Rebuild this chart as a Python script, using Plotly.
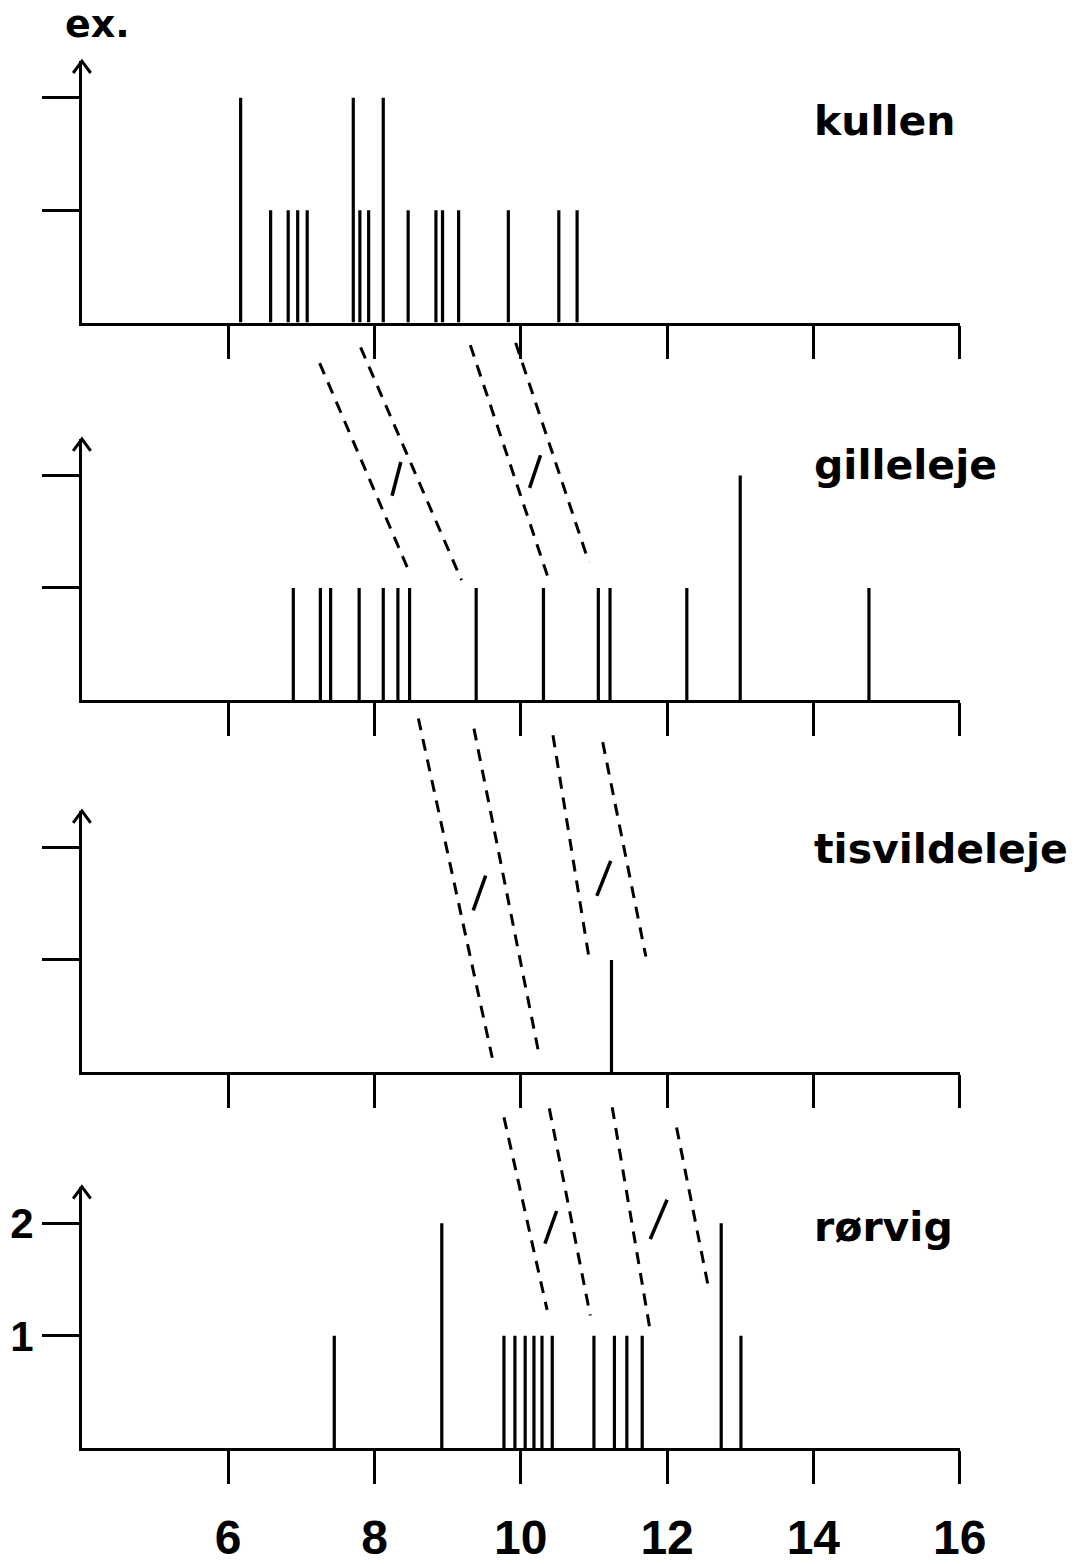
import plotly.graph_objects as go

W, H = 1091, 1564

# ---------------- data ----------------
x_tick_vals = [6, 8, 10, 12, 14, 16]
x_tick_text = ["6", "8", "10", "12", "14", "16"]
y_tick_vals = [1, 2]
y_tick_text = ["1", "2"]
y_title = "ex."

site_names = ["kullen", "gilleleje", "tisvildeleje", "rørvig"]

kullen_x = [6.17, 6.58, 6.82, 6.95, 7.08, 7.71, 7.80, 7.92, 8.12, 8.46, 8.84, 8.93, 9.15, 9.83, 10.52, 10.77]
kullen_n = [2, 1, 1, 1, 1, 2, 1, 1, 2, 1, 1, 1, 1, 1, 1, 1]

gilleleje_x = [6.89, 7.26, 7.40, 7.79, 8.12, 8.32, 8.48, 9.39, 10.31, 11.06, 11.22, 12.27, 13.00, 14.76]
gilleleje_n = [1, 1, 1, 1, 1, 1, 1, 1, 1, 1, 1, 1, 2, 1]

tisvildeleje_x = [11.24]
tisvildeleje_n = [1]

rorvig_x = [7.45, 8.92, 9.77, 9.92, 10.06, 10.18, 10.29, 10.43, 11.00, 11.28, 11.45, 11.66, 12.74, 13.01]
rorvig_n = [1, 2, 1, 1, 1, 1, 1, 1, 1, 1, 1, 1, 2, 1]

# dashed guide lines between consecutive panels:
# (upper panel index, x start, y start [upper panel units], x end, y end [lower panel units])
guide_lines = [
    (0, 7.25, -0.36, 8.49, 1.12),
    (0, 7.81, -0.22, 9.19, 1.07),
    (0, 9.31, -0.20, 10.40, 1.04),
    (0, 9.93, -0.18, 10.93, 1.23),
    (1, 8.60, -0.16, 9.61, 0.13),
    (1, 9.36, -0.25, 10.24, 0.19),
    (1, 10.44, -0.31, 10.93, 1.03),
    (1, 11.12, -0.37, 11.71, 1.03),
    (2, 9.77, -0.40, 10.36, 1.23),
    (2, 10.39, -0.32, 10.95, 1.18),
    (2, 11.25, -0.31, 11.76, 1.08),
    (2, 12.13, -0.49, 12.56, 1.45),
]
# short solid slash marks (panel index, x0, y0, x1, y1) in panel units
slash_marks = [
    (1, 8.36, 2.12, 8.24, 1.82),
    (1, 10.27, 2.18, 10.12, 1.89),
    (2, 9.52, 1.75, 9.35, 1.44),
    (2, 11.23, 1.88, 11.04, 1.57),
    (3, 10.49, 2.11, 10.33, 1.82),
    (3, 12.00, 2.21, 11.77, 1.86),
]

# ---------------- geometry ----------------
X_MIN, X_MAX = 4, 16
AX_LEFT, AX_RIGHT = 84, 984          # pixel positions of x = 4 and x = 16
baselines = [327, 710, 1087, 1468]   # pixel y of the zero line of each panel
PX_PER_UNIT = 114
PANEL_PX = 265
Y_MAX = PANEL_PX / PX_PER_UNIT


def fx(p):
    return p / W


def fy(p):
    return 1 - p / H


def panel_paper_y(i, v):
    return fy(baselines[i] - v * PX_PER_UNIT)


series = [(kullen_x, kullen_n), (gilleleje_x, gilleleje_n),
          (tisvildeleje_x, tisvildeleje_n), (rorvig_x, rorvig_n)]

fig = go.Figure()
layout = dict(
    width=W, height=H, autosize=False,
    margin=dict(l=0, r=0, t=0, b=0),
    paper_bgcolor="white", plot_bgcolor="white",
    showlegend=False,
)

tick_font_x = dict(family="Liberation Sans, Arial, sans-serif", size=48, color="black", weight="bold")
tick_font_y = dict(family="Liberation Sans, Arial, sans-serif", size=42, color="black", weight="bold")

for i, (xs, ns) in enumerate(series):
    sfx = "" if i == 0 else str(i + 1)
    lx, ly = [], []
    for v, n in zip(xs, ns):
        lx += [v, v, None]
        ly += [0, n, None]
    fig.add_trace(go.Scatter(
        x=lx, y=ly, mode="lines",
        line=dict(color="black", width=3.2),
        hoverinfo="skip",
        xaxis="x" + sfx, yaxis="y" + sfx,
    ))
    last = (i == 3)
    layout["xaxis" + sfx] = dict(
        domain=[fx(AX_LEFT), fx(AX_RIGHT)], range=[X_MIN, X_MAX],
        anchor="y" + sfx,
        showline=True, linewidth=3, linecolor="black",
        ticks="outside", ticklen=33, tickwidth=2.5, tickcolor="black",
        tickvals=x_tick_vals, ticktext=x_tick_text,
        showticklabels=last, tickfont=tick_font_x, ticklabelstandoff=12,
        showgrid=False, zeroline=False, fixedrange=True,
    )
    layout["yaxis" + sfx] = dict(
        domain=[fy(baselines[i]), fy(baselines[i] - PANEL_PX)],
        range=[0, Y_MAX], anchor="x" + sfx,
        showline=True, linewidth=3, linecolor="black",
        ticks="outside", ticklen=37, tickwidth=2.5, tickcolor="black",
        tickvals=y_tick_vals, ticktext=y_tick_text,
        showticklabels=last, tickfont=tick_font_y, ticklabelstandoff=0,
        showgrid=False, zeroline=False, fixedrange=True,
    )

shapes = []
# arrowheads on the y axes
for i in range(4):
    tip = baselines[i] - PANEL_PX
    path = "M {} {} L {} {} L {} {}".format(
        fx(AX_LEFT - 9), fy(tip + 12), fx(AX_LEFT), fy(tip), fx(AX_LEFT + 9), fy(tip + 12))
    shapes.append(dict(type="path", xref="paper", yref="paper", path=path,
                       line=dict(color="black", width=3)))

# dashed guide lines
for (p, xa, ya, xb, yb) in guide_lines:
    shapes.append(dict(type="line", xref="x", yref="paper",
                       x0=xa, y0=panel_paper_y(p, ya), x1=xb, y1=panel_paper_y(p + 1, yb),
                       line=dict(color="black", width=3, dash="12px,9px")))

# slash marks
for (p, xa, ya, xb, yb) in slash_marks:
    shapes.append(dict(type="line", xref="x", yref="paper",
                       x0=xa, y0=panel_paper_y(p, ya), x1=xb, y1=panel_paper_y(p, yb),
                       line=dict(color="black", width=3.5)))

layout["shapes"] = shapes

label_font = dict(family="DejaVu Sans, Verdana, sans-serif", size=41, color="black", weight="bold")
label_y_px = [123, 471, 861, 1244]
annotations = []
for i, name in enumerate(site_names):
    annotations.append(dict(text=name, xref="paper", yref="paper",
                            x=fx(833), y=fy(label_y_px[i]), xanchor="left", yanchor="middle",
                            showarrow=False, font=label_font))
annotations.append(dict(text=y_title, xref="paper", yref="paper",
                        x=fx(100), y=fy(24), xanchor="center", yanchor="middle",
                        showarrow=False,
                        font=dict(family="DejaVu Sans, Verdana, sans-serif", size=38, color="black", weight="bold")))
layout["annotations"] = annotations

fig.update_layout(**layout)
fig.write_html("out.html", config={"displayModeBar": False})
